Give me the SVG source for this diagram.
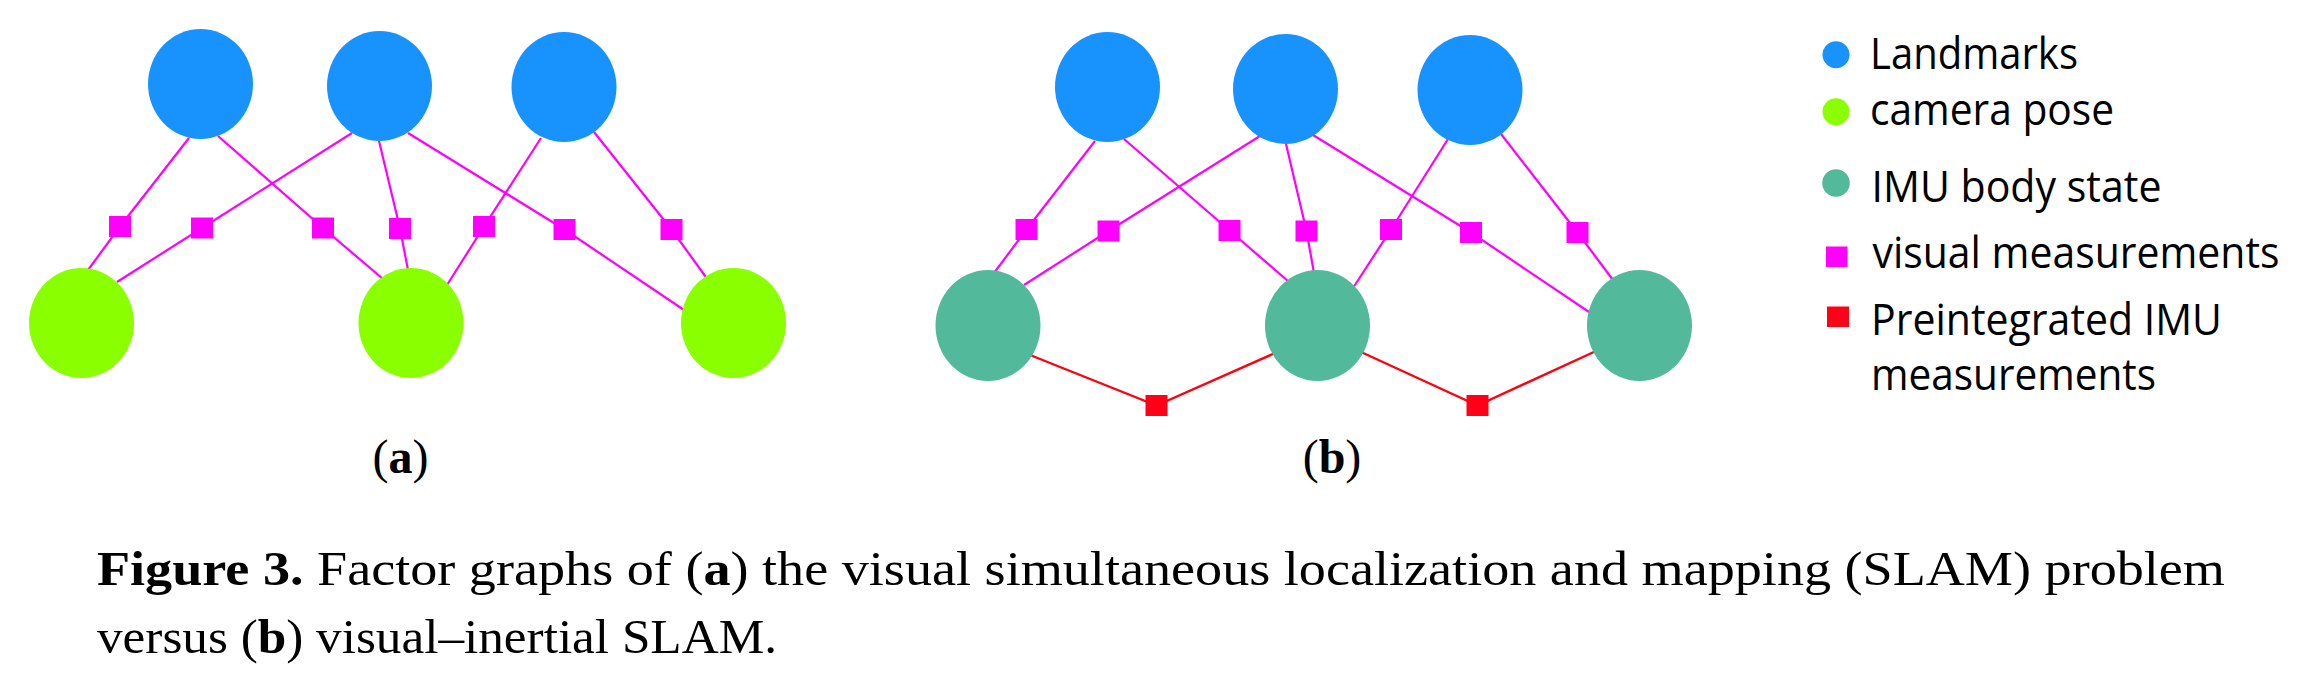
<svg xmlns="http://www.w3.org/2000/svg" width="2319" height="697" viewBox="0 0 2319 697">
<style>
.vis{stroke:#ff00ff;stroke-width:2.2;fill:none}
.imu{stroke:#ff0010;stroke-width:2.4;fill:none}
.lm{fill:#1893fe}
.cam{fill:#89ff00}
.body{fill:#53b99b}
.vf{fill:#ff00ff}
.rf{fill:#ff0016}
.leg{font-family:"Open Sans","Noto Sans",sans-serif;font-size:43px;fill:#000}
.cap{font-family:"Liberation Serif","DejaVu Serif",serif;font-size:48px;fill:#000}
.b{font-weight:bold}
</style>
<rect width="2319" height="697" fill="#fff"/>
<g id="connectors">
<!-- panel a -->
<polyline class="vis" points="189,138 120,226.5 88,270"/>
<polyline class="vis" points="352,133 202,228 117,282"/>
<polyline class="vis" points="218,136 323,228 383,279"/>
<polyline class="vis" points="379,141 400,228.5 408,270"/>
<polyline class="vis" points="541,138 484,226.5 447,285"/>
<polyline class="vis" points="408,133 564.5,229.5 684,310"/>
<polyline class="vis" points="594,132 671.5,229.5 708,280"/>
<!-- panel b -->
<polyline class="vis" points="1095,141 1026.5,229.5 994,273"/>
<polyline class="vis" points="1260,136 1108.5,231 1024,285"/>
<polyline class="vis" points="1124,139 1229.5,230.5 1289,282"/>
<polyline class="vis" points="1286,144 1306.5,231 1314,273"/>
<polyline class="vis" points="1448,139 1391,229.5 1353,288"/>
<polyline class="vis" points="1313,135 1471,232.5 1589,312"/>
<polyline class="vis" points="1501,134 1577.5,232.5 1613,280"/>
<polyline class="imu" points="1030,355 1156.5,405.5 1275,353"/>
<polyline class="imu" points="1361,352 1477.5,405.5 1596,351"/>
</g>
<g id="landmarks-a">
<ellipse id="a-L1" class="lm" cx="200.5" cy="84" rx="52.5" ry="55"/>
<ellipse id="a-L2" class="lm" cx="379.5" cy="86" rx="52.5" ry="55"/>
<ellipse id="a-L3" class="lm" cx="564" cy="87" rx="52.5" ry="55"/>
</g>
<g id="poses-a">
<ellipse id="a-P1" class="cam" cx="81.5" cy="323" rx="52.5" ry="55"/>
<ellipse id="a-P2" class="cam" cx="411" cy="323" rx="52.5" ry="55"/>
<ellipse id="a-P3" class="cam" cx="733.5" cy="323" rx="52.5" ry="55"/>
</g>
<g id="factors-a">
<rect id="a-f1" class="vf" x="109" y="216" width="22" height="21"/>
<rect id="a-f2" class="vf" x="191" y="217.5" width="22" height="21"/>
<rect id="a-f3" class="vf" x="312" y="217.5" width="22" height="21"/>
<rect id="a-f4" class="vf" x="389" y="218" width="22" height="21"/>
<rect id="a-f5" class="vf" x="473" y="216" width="22" height="21"/>
<rect id="a-f6" class="vf" x="553.5" y="219" width="22" height="21"/>
<rect id="a-f7" class="vf" x="660.5" y="219" width="22" height="21"/>
</g>
<g id="landmarks-b">
<ellipse id="b-L1" class="lm" cx="1107.5" cy="87" rx="52.5" ry="55"/>
<ellipse id="b-L2" class="lm" cx="1285.5" cy="89" rx="52.5" ry="55"/>
<ellipse id="b-L3" class="lm" cx="1470" cy="90" rx="52.5" ry="55"/>
</g>
<g id="bodies-b">
<ellipse id="b-B1" class="body" cx="988" cy="325.5" rx="52.5" ry="55.5"/>
<ellipse id="b-B2" class="body" cx="1317.5" cy="325.5" rx="52.5" ry="55.5"/>
<ellipse id="b-B3" class="body" cx="1639.5" cy="325.5" rx="52.5" ry="55.5"/>
</g>
<g id="factors-b">
<rect id="b-f1" class="vf" x="1015.5" y="219" width="22" height="21"/>
<rect id="b-f2" class="vf" x="1097.5" y="220.5" width="22" height="21"/>
<rect id="b-f3" class="vf" x="1218.5" y="220" width="22" height="21"/>
<rect id="b-f4" class="vf" x="1295.5" y="220.5" width="22" height="21"/>
<rect id="b-f5" class="vf" x="1380" y="219" width="22" height="21"/>
<rect id="b-f6" class="vf" x="1460" y="222" width="22" height="21"/>
<rect id="b-f7" class="vf" x="1566.5" y="222" width="22" height="21"/>
<rect id="b-r1" class="rf" x="1145.5" y="395" width="22" height="21"/>
<rect id="b-r2" class="rf" x="1466.5" y="395" width="22" height="21"/>
</g>
<g id="legend">
<circle class="lm" cx="1836" cy="54.7" r="13.5"/>
<circle class="cam" cx="1836" cy="111.7" r="13.5"/>
<circle class="body" cx="1836" cy="183" r="13.8"/>
<rect class="vf" x="1826" y="246.5" width="21.5" height="20.5"/>
<rect class="rf" x="1827" y="306.5" width="22" height="20.5"/>
<text class="leg" x="1870" y="69" textLength="208" lengthAdjust="spacingAndGlyphs">Landmarks</text>
<text class="leg" x="1870" y="125" textLength="244" lengthAdjust="spacingAndGlyphs">camera pose</text>
<text class="leg" x="1871.5" y="201.7" textLength="290" lengthAdjust="spacingAndGlyphs">IMU body state</text>
<text class="leg" x="1872.5" y="268.3" textLength="407" lengthAdjust="spacingAndGlyphs">visual measurements</text>
<text class="leg" x="1871" y="335" textLength="351" lengthAdjust="spacingAndGlyphs">Preintegrated IMU</text>
<text class="leg" x="1871" y="390" textLength="285" lengthAdjust="spacingAndGlyphs">measurements</text>
</g>
<g id="captions">
<text class="cap" x="400.5" y="473" text-anchor="middle">(<tspan class="b">a</tspan>)</text>
<text class="cap" x="1332" y="473" text-anchor="middle">(<tspan class="b">b</tspan>)</text>
<text class="cap" x="97" y="585" textLength="2128" lengthAdjust="spacingAndGlyphs"><tspan class="b">Figure 3.</tspan>  Factor graphs of (<tspan class="b">a</tspan>) the visual simultaneous localization and mapping (SLAM) problem</text>
<text class="cap" x="97" y="653" textLength="680" lengthAdjust="spacingAndGlyphs">versus (<tspan class="b">b</tspan>) visual–inertial SLAM.</text>
</g>
</svg>
